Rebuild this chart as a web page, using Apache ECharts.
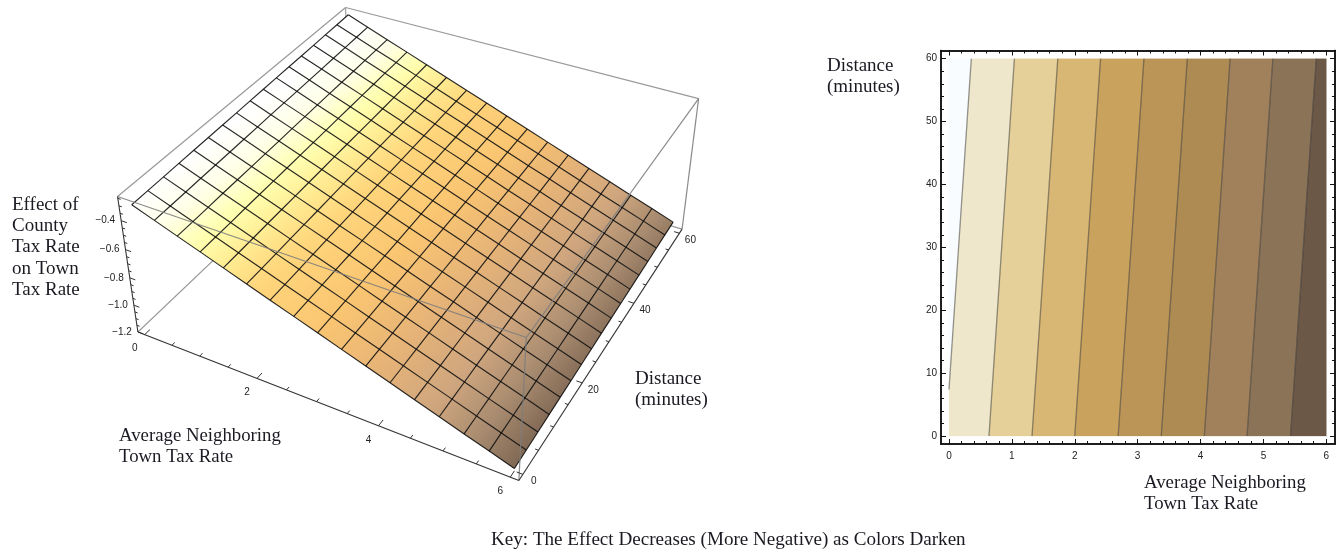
<!DOCTYPE html>
<html><head><meta charset="utf-8">
<style>html,body{margin:0;padding:0;background:#fff}#c{width:1344px;height:552px}</style>
<script src="https://cdn.jsdelivr.net/npm/echarts@6/dist/echarts.min.js"></script>
</head><body><div id="c"></div>
<script>
// ---------- data ----------
const taxRateMesh=[0,0.375,0.75,1.125,1.5,1.875,2.25,2.625,3,3.375,3.75,4.125,4.5,4.875,5.25,5.625,6];
const distanceMesh=[0,3.75,7.5,11.25,15,18.75,22.5,26.25,30,33.75,37.5,41.25,45,48.75,52.5,56.25,60];
// effect on the mesh: one row per distance, one column per tax rate
const effectD00=[-0.307,-0.362,-0.417,-0.471,-0.526,-0.581,-0.636,-0.690,-0.745,-0.800,-0.855,-0.909,-0.964,-1.019,-1.074,-1.128,-1.183];
const effectD04=[-0.304,-0.359,-0.414,-0.468,-0.523,-0.578,-0.633,-0.687,-0.742,-0.797,-0.852,-0.906,-0.961,-1.016,-1.071,-1.125,-1.180];
const effectD08=[-0.301,-0.356,-0.411,-0.465,-0.520,-0.575,-0.630,-0.684,-0.739,-0.794,-0.849,-0.903,-0.958,-1.013,-1.068,-1.122,-1.177];
const effectD11=[-0.297,-0.352,-0.407,-0.461,-0.516,-0.571,-0.626,-0.680,-0.735,-0.790,-0.845,-0.899,-0.954,-1.009,-1.064,-1.118,-1.173];
const effectD15=[-0.294,-0.349,-0.404,-0.458,-0.513,-0.568,-0.623,-0.677,-0.732,-0.787,-0.842,-0.896,-0.951,-1.006,-1.061,-1.115,-1.170];
const effectD19=[-0.291,-0.346,-0.401,-0.455,-0.510,-0.565,-0.620,-0.674,-0.729,-0.784,-0.839,-0.893,-0.948,-1.003,-1.058,-1.112,-1.167];
const effectD23=[-0.288,-0.343,-0.398,-0.452,-0.507,-0.562,-0.617,-0.671,-0.726,-0.781,-0.836,-0.890,-0.945,-1.000,-1.055,-1.109,-1.164];
const effectD26=[-0.285,-0.340,-0.395,-0.449,-0.504,-0.559,-0.614,-0.668,-0.723,-0.778,-0.833,-0.887,-0.942,-0.997,-1.052,-1.106,-1.161];
const effectD30=[-0.281,-0.336,-0.391,-0.445,-0.500,-0.555,-0.610,-0.664,-0.719,-0.774,-0.829,-0.883,-0.938,-0.993,-1.048,-1.102,-1.157];
const effectD34=[-0.278,-0.333,-0.388,-0.442,-0.497,-0.552,-0.607,-0.661,-0.716,-0.771,-0.826,-0.880,-0.935,-0.990,-1.045,-1.099,-1.154];
const effectD38=[-0.275,-0.330,-0.385,-0.439,-0.494,-0.549,-0.604,-0.658,-0.713,-0.768,-0.823,-0.877,-0.932,-0.987,-1.042,-1.096,-1.151];
const effectD41=[-0.272,-0.327,-0.382,-0.436,-0.491,-0.546,-0.601,-0.655,-0.710,-0.765,-0.820,-0.874,-0.929,-0.984,-1.039,-1.093,-1.148];
const effectD45=[-0.269,-0.324,-0.379,-0.433,-0.488,-0.543,-0.598,-0.652,-0.707,-0.762,-0.817,-0.871,-0.926,-0.981,-1.036,-1.090,-1.145];
const effectD49=[-0.266,-0.321,-0.376,-0.430,-0.485,-0.540,-0.595,-0.649,-0.704,-0.759,-0.814,-0.868,-0.923,-0.978,-1.033,-1.087,-1.142];
const effectD53=[-0.262,-0.317,-0.372,-0.426,-0.481,-0.536,-0.591,-0.645,-0.700,-0.755,-0.810,-0.864,-0.919,-0.974,-1.029,-1.083,-1.138];
const effectD56=[-0.259,-0.314,-0.369,-0.423,-0.478,-0.533,-0.588,-0.642,-0.697,-0.752,-0.807,-0.861,-0.916,-0.971,-1.026,-1.080,-1.135];
const effectD60=[-0.256,-0.311,-0.366,-0.420,-0.475,-0.530,-0.585,-0.639,-0.694,-0.749,-0.804,-0.858,-0.913,-0.968,-1.023,-1.077,-1.132];
// contour lines: tax rate where each contour crosses distance 0 and distance 60
const contourAtDistance0=[-0.05,0.636,1.32,2.0,2.69,3.375,4.06,4.74,5.43];
const contourAtDistance60=[0.355,1.04,1.73,2.41,3.10,3.79,4.47,5.15,5.84];
const bandColors=['#F8FCFF','#EEE7CB','#E5D09A','#D8B673','#C9A25E','#BB9558','#AF8B54','#A0815C','#8B7357','#6C5846'];
const xTicksMajor=[0,1,2,3,4,5,6];
const xTicksMinor=[0.2,0.4,0.6,0.8,1.2,1.4,1.6,1.8,2.2,2.4,2.6,2.8,3.2,3.4,3.6,3.8,4.2,4.4,4.6,4.8,5.2,5.4,5.6,5.8];
const yTicksMajor=[0,10,20,30,40,50,60];
const yTicksMinor=[2,4,6,8,12,14,16,18,22,24,26,28,32,34,36,38,42,44,46,48,52,54,56,58];
const box3dTaxMajor=[0,2,4,6];
const box3dTaxMinor=[0.5,1,1.5,2.5,3,3.5,4.5,5,5.5];
const box3dDistMajor=[0,20,40,60];
const box3dDistMinor=[5,10,15,25,30,35,45,50,55];
const box3dEffectMajor=[-0.4,-0.6,-0.8,-1.0,-1.2];
const box3dEffectMinor=[-0.25,-0.3,-0.35,-0.45,-0.5,-0.55,-0.65,-0.7,-0.75,-0.85,-0.9,-0.95,-1.05,-1.1,-1.15];
const box3dRange={x:[-0.125,6.125],d:[-1.25,61.25],z:[-1.2015,-0.2375]};
// ---------- 3-D camera (projective matrix fitted to the picture's box) ----------
const surfaceEffect=[effectD00,effectD04,effectD08,effectD11,effectD15,effectD19,effectD23,effectD26,effectD30,effectD34,effectD38,effectD41,effectD45,effectD49,effectD53,effectD56,effectD60];
const R=box3dRange;
const P=[0.334144,0.296325,-0.031758,0.124985,0.096181,-0.182662,-0.167559,0.157974,-0.122570,0.213949,-0.074503];
function project(x,d,z){const X=x/6,Y=d/60,W=P[8]*X+P[9]*Y+P[10]*z+1;
 return [1000*(P[0]*X+P[1]*Y+P[2]*z+P[3])/W,1000*(P[4]*X+P[5]*Y+P[6]*z+P[7])/W];}
// ---------- colour ----------
const colourStops=[[-0.30,[255,255,255]],[-0.38,[255,255,232]],[-0.453,[255,255,176]],[-0.526,[255,235,146]],[-0.60,[255,214,124]],[-0.745,[250,197,113]],[-0.89,[228,178,120]],[-1.0,[207,166,126]],[-1.095,[169,140,112]],[-1.183,[128,104,84]]];
function colourOf(z){
 if(z>=colourStops[0][0])return 'rgb(255,255,255)';
 for(let i=1;i<colourStops.length;i++){if(z>=colourStops[i][0]){const a=colourStops[i-1],b=colourStops[i],t=(a[0]-z)/(a[0]-b[0]);
  return 'rgb('+a[1].map((c,k)=>Math.round(c+(b[1][k]-c)*t)).join(',')+')';}}
 return 'rgb(128,104,84)';
}
const cells=[];for(let j=0;j<16;j++)for(let i=0;i<16;i++)cells.push([i,j]);
function renderCell(params,api){
 const i=api.value(0),j=api.value(1);
 const x0=taxRateMesh[i],x1=taxRateMesh[i+1],d0=distanceMesh[j],d1=distanceMesh[j+1];
 const z00=surfaceEffect[j][i],z10=surfaceEffect[j][i+1],z01=surfaceEffect[j+1][i],z11=surfaceEffect[j+1][i+1];
 const a=project(x0,d0,z00),b=project(x1,d0,z10),c=project(x1,d1,z11),e=project(x0,d1,z01);
 // screen-space gradient of the effect over this cell
 const ux=b[0]-a[0],uy=b[1]-a[1],vx=e[0]-a[0],vy=e[1]-a[1],dzu=z10-z00,dzv=z01-z00,det=ux*vy-uy*vx;
 const gx=(dzu*vy-dzv*uy)/det,gy=(dzv*ux-dzu*vx)/det,g2=gx*gx+gy*gy;
 const zTop=Math.max(z00,z10,z01,z11),zLow=Math.min(z00,z10,z01,z11);
 const tA=(zTop-z00)/g2,tB=(zLow-z00)/g2,n=4,stops=[];
 for(let s=0;s<=n;s++)stops.push({offset:s/n,color:colourOf(zTop+(zLow-zTop)*s/n)});
 const fill=new echarts.graphic.LinearGradient(a[0]+gx*tA,a[1]+gy*tA,a[0]+gx*tB,a[1]+gy*tB,stops,true);
 return {type:'polygon',shape:{points:[a,b,c,e]},style:{fill:fill,stroke:null}};
}
const meshItems=[];for(let i=0;i<17;i++)meshItems.push([0,i]);for(let j=0;j<17;j++)meshItems.push([1,j]);
function renderMesh(params,api){
 const kind=api.value(0),k=api.value(1),pts=[];
 for(let m=0;m<17;m++){pts.push(kind===0?project(taxRateMesh[k],distanceMesh[m],surfaceEffect[m][k]):project(taxRateMesh[m],distanceMesh[k],surfaceEffect[k][m]));}
 return {type:'polyline',shape:{points:pts},style:{fill:null,stroke:'rgba(10,10,10,0.88)',lineWidth:1.15}};
}
const [xa,xb]=R.x,[da,db]=R.d,[za,zb]=R.z;
const hiddenEdges=[[xa,da,za,xa,db,za],[xa,db,za,xb,db,za],[xa,db,za,xa,db,zb]];
const frontEdges=[[xa,da,zb,xb,da,zb],[xb,da,zb,xb,db,zb],[xb,da,zb,xb,da,za],[xb,db,zb,xb,db,za]];
const backTopEdges=[[xa,da,zb,xa,db,zb],[xa,db,zb,xb,db,zb]];
const blackEdges=[[xa,da,za,xb,da,za],[xb,da,za,xb,db,za],[xa,da,za,xa,da,zb]];
function edgeRenderer(col,w){return (p,api)=>{
 const a=project(api.value(0),api.value(1),api.value(2)),b=project(api.value(3),api.value(4),api.value(5));
 return {type:'line',shape:{x1:a[0],y1:a[1],x2:b[0],y2:b[1]},style:{stroke:col,lineWidth:w}};};}
const tickItems=[];
box3dTaxMajor.forEach(v=>tickItems.push([v,da,za,v,da+1.3,za]));
box3dTaxMinor.forEach(v=>tickItems.push([v,da,za,v,da+0.7,za]));
box3dDistMajor.forEach(v=>tickItems.push([xb,v,za,xb-0.09,v,za]));
box3dDistMinor.forEach(v=>tickItems.push([xb,v,za,xb-0.05,v,za]));
box3dEffectMajor.forEach(v=>tickItems.push([xa,da,v,xa+0.1,da,v]));
box3dEffectMinor.forEach(v=>tickItems.push([xa,da,v,xa+0.05,da,v]));
const labelItems=[];
box3dTaxMajor.forEach(v=>labelItems.push([0,v]));
box3dDistMajor.forEach(v=>labelItems.push([1,v]));
box3dEffectMajor.forEach(v=>labelItems.push([2,v]));
const tickFont='10px "Liberation Sans"';
function renderLabel(p,api){
 const k=api.value(0),v=api.value(1);let q,align='center',t=String(v);
 if(k===0){q=project(v,da,za);q=[q[0]-10,q[1]+14];}
 else if(k===1){q=project(xb,v,za);q=[q[0]+11,q[1]+7];}
 else{q=project(xa,da,v);q=[q[0]-6,q[1]];align='right';t='\u2212'+Math.abs(v).toFixed(1);}
 return {type:'text',style:{text:t,x:q[0],y:q[1],font:tickFont,fill:'#222',align:align,verticalAlign:'middle'}};
}
// ---------- contour plot ----------
const bands=[];
for(let b=0;b<bandColors.length;b++){
 const l0=b===0?-3:contourAtDistance0[b-1],l6=b===0?-3:contourAtDistance60[b-1];
 const r0=b===9?9:contourAtDistance0[b],r6=b===9?9:contourAtDistance60[b];
 bands.push([b,l0,l6,r0,r6]);
}
function clipX(poly,lim,keepAbove){
 const out=[],ins=p=>keepAbove?p[0]>=lim:p[0]<=lim;
 for(let i=0;i<poly.length;i++){const a=poly[i],b=poly[(i+1)%poly.length];
  if(ins(a))out.push(a);
  if(ins(a)!==ins(b)){const t=(lim-a[0])/(b[0]-a[0]);out.push([lim,a[1]+(b[1]-a[1])*t]);}}
 return out;
}
function renderBand(p,api){
 const b=api.value(0),l0=api.value(1),l6=api.value(2),r0=api.value(3),r6=api.value(4);
 let poly=[[l0,0],[r0,0],[r6,60],[l6,60]];
 poly=clipX(clipX(poly,0,true),6,false);
 return {type:'polygon',shape:{points:poly.map(q=>api.coord(q))},style:{fill:bandColors[b],stroke:bandColors[b],lineWidth:0.3}};
}
const contourLines=contourAtDistance0.map((c,i)=>[c,contourAtDistance60[i]]);
function renderContour(p,api){
 let a=[api.value(0),0],b=[api.value(1),60];
 if(a[0]<0){const t=-a[0]/(b[0]-a[0]);a=[0,60*t];}
 const A=api.coord(a),B=api.coord(b);
 return {type:'line',shape:{x1:A[0],y1:A[1],x2:B[0],y2:B[1]},style:{stroke:'rgba(50,50,50,0.5)',lineWidth:1.3}};
}
// ---------- axes ----------
const gx={min:-0.127,max:6.138},gy={min:-1.27,max:61.3};
const axisBase={type:'value',axisLine:{show:true,onZero:false,lineStyle:{color:'#111',width:1.5}},splitLine:{show:false}};
function mkAxis(r,pos,vals,len,labels,margin){
 return Object.assign({},axisBase,r,{position:pos,
  axisTick:{show:true,inside:true,length:len,customValues:vals,lineStyle:{color:'#111',width:1}},
  axisLabel:labels?{show:true,customValues:vals,margin:margin,fontFamily:'Liberation Sans',fontSize:10,color:'#222'}:{show:false}});
}
const txt=(s,x,y,size)=>({type:'text',silent:true,x:x,y:y,style:{text:s,font:(size||19)+'px "Liberation Serif"',fill:'#1a1a22',lineHeight:21.3}});
const option={
 animation:false,backgroundColor:'#fff',
 grid:{left:941,top:50.5,width:394,height:393.5,containLabel:false},
 xAxis:[mkAxis(gx,'bottom',xTicksMajor,5,true,7),mkAxis(gx,'bottom',xTicksMinor,3),mkAxis(gx,'top',xTicksMajor,5),mkAxis(gx,'top',xTicksMinor,3)],
 yAxis:[mkAxis(gy,'left',yTicksMajor,5,true,4),mkAxis(gy,'left',yTicksMinor,3),mkAxis(gy,'right',yTicksMajor,5),mkAxis(gy,'right',yTicksMinor,3)],
 graphic:[
  txt('Effect of\nCounty\nTax Rate\non Town\nTax Rate',12,194),
  txt('Average Neighboring\nTown Tax Rate',119,425,18.8),
  txt('Distance\n(minutes)',635,368),
  txt('Distance\n(minutes)',827,55),
  txt('Average Neighboring\nTown Tax Rate',1144,472,18.8),
  txt('Key: The Effect Decreases (More Negative) as Colors Darken',491,529,19.1)
 ],
 series:[
  {type:'custom',coordinateSystem:'cartesian2d',xAxisIndex:0,yAxisIndex:0,silent:true,z:2,data:bands,encode:{x:1,y:2},renderItem:renderBand},
  {type:'custom',coordinateSystem:'cartesian2d',xAxisIndex:0,yAxisIndex:0,silent:true,z:3,data:contourLines,encode:{x:0,y:1},renderItem:renderContour},
  {type:'custom',coordinateSystem:'none',silent:true,z:4,data:hiddenEdges,renderItem:edgeRenderer('#999',1.1)},
  {type:'custom',coordinateSystem:'none',silent:true,z:4,data:backTopEdges,renderItem:edgeRenderer('#999',1.2)},
  {type:'custom',coordinateSystem:'none',silent:true,z:5,data:cells,renderItem:renderCell},
  {type:'custom',coordinateSystem:'none',silent:true,z:6,data:meshItems,renderItem:renderMesh},
  {type:'custom',coordinateSystem:'none',silent:true,z:7,data:frontEdges,renderItem:edgeRenderer('rgba(125,125,125,0.9)',1.2)},
  {type:'custom',coordinateSystem:'none',silent:true,z:7,data:blackEdges,renderItem:edgeRenderer('#333',1.1)},
  {type:'custom',coordinateSystem:'none',silent:true,z:7,data:tickItems,renderItem:edgeRenderer('#333',1)},
  {type:'custom',coordinateSystem:'none',silent:true,z:8,data:labelItems,renderItem:renderLabel}
 ]
};
echarts.init(document.getElementById('c'),null,{renderer:'canvas'}).setOption(option);
</script></body></html>
